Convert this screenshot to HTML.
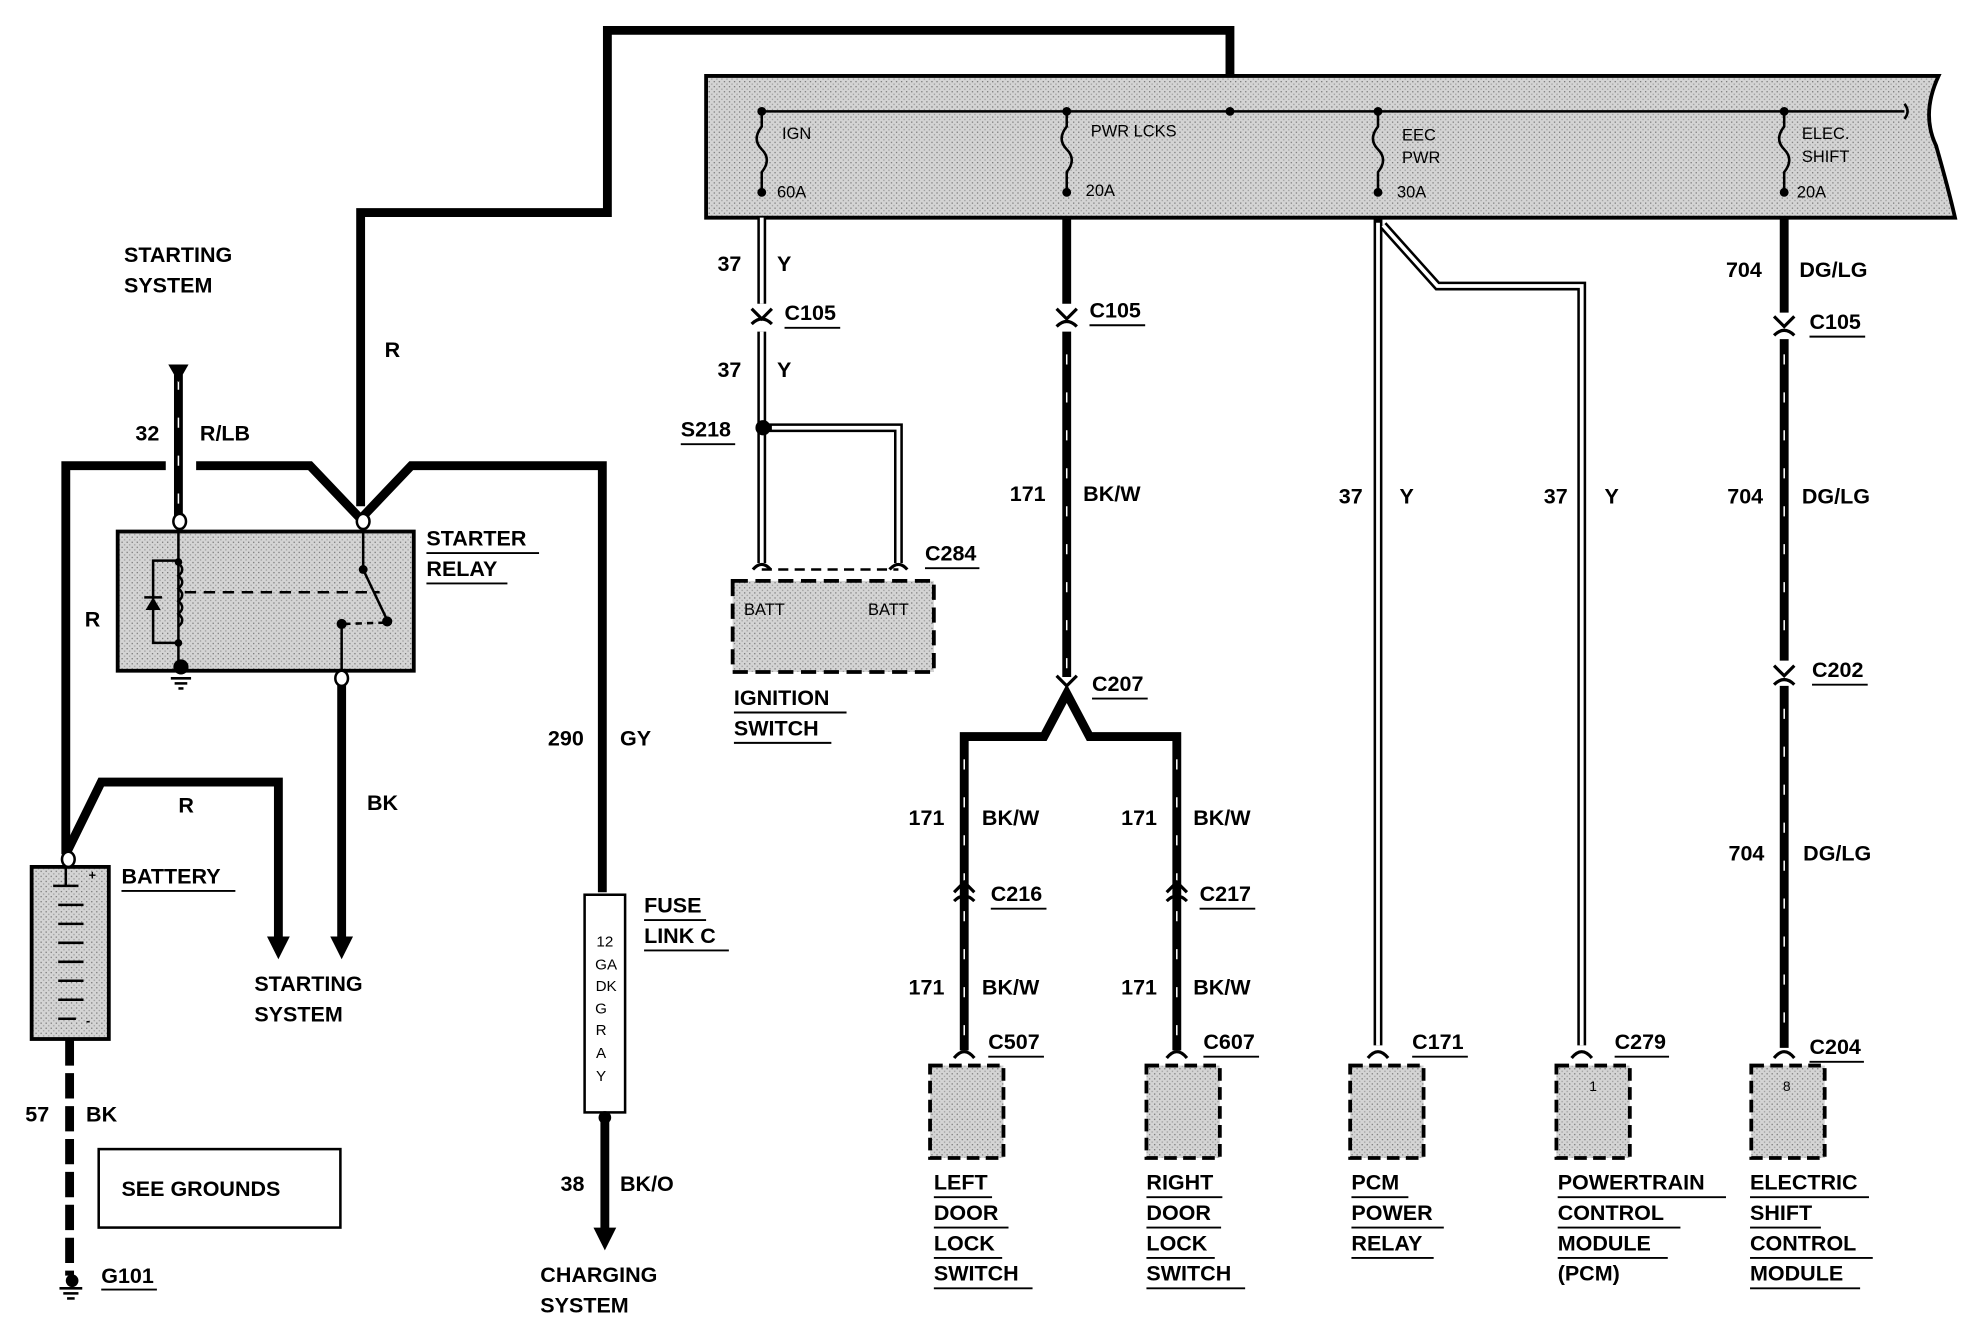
<!DOCTYPE html>
<html><head><meta charset="utf-8"><style>
html,body{margin:0;padding:0;background:#fff;}
svg{display:block;}
text{font-family:"Liberation Sans",sans-serif;font-weight:bold;fill:#000;}
</style></head><body>
<svg width="1974" height="1344" viewBox="0 0 1560 1062" preserveAspectRatio="none" xmlns="http://www.w3.org/2000/svg">
<defs>
<pattern id="dots" width="4" height="4" patternUnits="userSpaceOnUse">
<rect width="4" height="4" fill="#d4d4d4"/><rect width="1" height="1" fill="#777"/><rect x="2" y="2" width="1" height="1" fill="#999"/>
</pattern>
</defs>
<g fill="none" stroke="#000" stroke-linejoin="miter">
<!-- top power feed -->
<polyline points="285,400 285,168 480,168 480,24 972,24 972,88" stroke-width="7"/>
<!-- fuse box -->
<path d="M558,60 L1532,60 Q1518,90 1530,115 Q1540,150 1545,172 L558,172 Z" fill="url(#dots)" stroke-width="3"/>
<line x1="600" y1="88" x2="1505" y2="88" stroke-width="2"/>
<path d="M1505,82 Q1510,88 1505,94" stroke-width="2"/>
<!-- fuses -->
<g stroke-width="2">
<path d="M602,88 L602,100 Q594,110 602,118 Q610,126 602,136 L602,152"/>
<path d="M843,88 L843,100 Q835,110 843,118 Q851,126 843,136 L843,152"/>
<path d="M1089,88 L1089,100 Q1081,110 1089,118 Q1097,126 1089,136 L1089,152"/>
<path d="M1410,88 L1410,100 Q1402,110 1410,118 Q1418,126 1410,136 L1410,152"/>
</g>
</g>
<g fill="#000">
<circle cx="602" cy="88" r="3.5"/><circle cx="843" cy="88" r="3.5"/><circle cx="972" cy="88" r="3.5"/><circle cx="1089" cy="88" r="3.5"/><circle cx="1410" cy="88" r="3.5"/>
<circle cx="602" cy="152" r="3.5"/><circle cx="843" cy="152" r="3.5"/><circle cx="1089" cy="152" r="3.5"/><circle cx="1410" cy="152" r="3.5"/>
</g>
<g font-size="13" style="font-weight:normal">
<text x="618" y="110" style="font-weight:normal">IGN</text><text x="614" y="156" style="font-weight:normal">60A</text>
<text x="862" y="108" style="font-weight:normal">PWR LCKS</text><text x="858" y="155" style="font-weight:normal">20A</text>
<text x="1108" y="111" style="font-weight:normal">EEC</text><text x="1108" y="129" style="font-weight:normal">PWR</text><text x="1104" y="156" style="font-weight:normal">30A</text>
<text x="1424" y="110" style="font-weight:normal">ELEC.</text><text x="1424" y="128" style="font-weight:normal">SHIFT</text><text x="1420" y="156" style="font-weight:normal">20A</text>
</g>

<!-- double (thin) wires -->
<g fill="none" stroke-linejoin="miter">
<g stroke="#000" stroke-width="7">
<polyline points="602,172 602,240"/><polyline points="602,262 602,338"/>
<polyline points="602,338 602,445"/><polyline points="606,338 710,338 710,445"/>
<polyline points="1089,172 1089,826"/><polyline points="1093,178 1136,226 1250,226 1250,826"/>
</g>
<g stroke="#fff" stroke-width="3">
<polyline points="602,172 602,240"/><polyline points="602,262 602,338"/>
<polyline points="602,340 602,445"/><polyline points="610,338 710,338 710,445"/>
<polyline points="1089,176 1089,826"/><polyline points="1093,178 1136,226 1250,226 1250,826"/>
</g>
</g>
<circle cx="603" cy="338" r="6" fill="#000"/>

<!-- thick wires -->
<g fill="none" stroke="#000" stroke-width="7" stroke-linejoin="miter">
<line x1="843" y1="172" x2="843" y2="240"/>
<line x1="843" y1="262" x2="843" y2="535"/>
<polyline points="762,830 762,582 825,582 843,548 861,582 930,582 930,830"/>
<line x1="1410" y1="172" x2="1410" y2="247"/>
<line x1="1410" y1="268" x2="1410" y2="522"/>
<line x1="1410" y1="542" x2="1410" y2="828"/>
<!-- left side -->
<line x1="141" y1="296" x2="141" y2="408"/>
<polyline points="131,368 52,368 52,675"/>
<polyline points="155,368 245,368 285,410 325,368 476,368 476,705"/>
<polyline points="52,675 80,618 220,618 220,745"/>
<line x1="270" y1="540" x2="270" y2="745"/>
<line x1="478" y1="882" x2="478" y2="975"/>
<line x1="55" y1="822" x2="55" y2="1008" stroke-dasharray="20,6"/>
</g>
<!-- white dash highlights on thick wires -->
<g stroke="#fff" stroke-width="1.2" stroke-dasharray="8,22" fill="none">
<line x1="843" y1="280" x2="843" y2="530"/>
<line x1="1410" y1="280" x2="1410" y2="520"/>
<line x1="1410" y1="560" x2="1410" y2="820"/>
<line x1="762" y1="600" x2="762" y2="820"/>
<line x1="930" y1="600" x2="930" y2="820"/>
<line x1="141" y1="300" x2="141" y2="400"/>
</g>
<!-- arrowheads -->
<g fill="#000">
<polygon points="133,288 149,288 141,302"/>
<polygon points="211,740 229,740 220,758"/>
<polygon points="261,740 279,740 270,758"/>
<polygon points="469,970 487,970 478,988"/>
</g>
<!-- connector chevrons -->
<g fill="none" stroke="#000" stroke-width="2.5">
<path d="M594,244 L602,252 L610,244"/><path d="M594,256 Q602,248 610,256"/>
<path d="M835,244 L843,252 L851,244"/><path d="M835,258 Q843,250 851,258"/>
<path d="M1402,250 L1410,258 L1418,250"/><path d="M1402,265 Q1410,257 1418,265"/>
<path d="M1402,526 L1410,534 L1418,526"/><path d="M1402,541 Q1410,533 1418,541"/>
<path d="M835,534 L843,542 L851,534"/>
<path d="M754,705 L762,697 L770,705"/><path d="M754,712 Q762,704 770,712"/>
<path d="M922,705 L930,697 L938,705"/><path d="M922,712 Q930,704 938,712"/>
<path d="M754,836 Q762,826 770,836"/><path d="M922,836 Q930,826 938,836"/>
<path d="M1081,836 Q1089,826 1097,836"/><path d="M1242,836 Q1250,826 1258,836"/>
<path d="M1402,836 Q1410,826 1418,836"/>
<path d="M595,450 Q602,442 609,450"/><path d="M703,450 Q710,442 717,450"/>
</g>
<!-- ignition switch -->
<rect x="579" y="459" width="159" height="72" fill="url(#dots)" stroke="#000" stroke-width="3" stroke-dasharray="12,6"/>
<line x1="602" y1="450" x2="710" y2="450" stroke="#000" stroke-width="2" stroke-dasharray="8,5"/>
<text x="588" y="486" font-size="13" style="font-weight:normal">BATT</text>
<text x="686" y="486" font-size="13" style="font-weight:normal">BATT</text>
<!-- component boxes -->
<g fill="url(#dots)" stroke="#000" stroke-width="3" stroke-dasharray="10,5">
<rect x="735" y="842" width="58" height="73"/>
<rect x="906" y="842" width="58" height="73"/>
<rect x="1067" y="842" width="58" height="73"/>
<rect x="1230" y="842" width="58" height="73"/>
<rect x="1384" y="842" width="58" height="73"/>
</g>
<text x="1256" y="862" font-size="11" style="font-weight:normal">1</text>
<text x="1409" y="862" font-size="11" style="font-weight:normal">8</text>

<!-- starter relay -->
<rect x="93" y="420" width="234" height="110" fill="url(#dots)" stroke="#000" stroke-width="3"/>
<g fill="none" stroke="#000" stroke-width="2">
<line x1="141" y1="414" x2="141" y2="524"/>
<path d="M141,445 q6,5 0,10 q6,5 0,10 q6,5 0,10 q6,5 0,10 q6,5 0,10"/>
<polyline points="141,443 121,443 121,508 141,508"/>
<line x1="146" y1="468" x2="300" y2="468" stroke-dasharray="9,6"/>
<line x1="287" y1="414" x2="287" y2="450"/>
<line x1="287" y1="450" x2="306" y2="490"/>
<polyline points="270,493 270,533"/>
<line x1="272" y1="493" x2="304" y2="492" stroke-dasharray="5,4"/>
</g>
<polygon points="115,482 127,482 121,472" fill="#000"/><line x1="114" y1="472" x2="128" y2="472" stroke="#000" stroke-width="2"/>
<g fill="#000"><circle cx="141" cy="444" r="3"/><circle cx="141" cy="508" r="3"/><circle cx="287" cy="450" r="3.5"/><circle cx="306" cy="491" r="4"/><circle cx="270" cy="493" r="4"/><circle cx="143" cy="527" r="6"/></g>
<g stroke="#000" stroke-width="2"><line x1="135" y1="536" x2="151" y2="536"/><line x1="138" y1="540" x2="148" y2="540"/><line x1="141" y1="544" x2="145" y2="544"/></g>
<g fill="#fff" stroke="#000" stroke-width="2">
<ellipse cx="142" cy="412" rx="5" ry="6"/><ellipse cx="287" cy="412" rx="5" ry="6"/><ellipse cx="270" cy="536" rx="5" ry="6"/>
</g>
<!-- battery -->
<rect x="25" y="685" width="61" height="136" fill="url(#dots)" stroke="#000" stroke-width="3"/>
<g stroke="#000" stroke-width="2">
<line x1="52" y1="685" x2="52" y2="700"/><line x1="42" y1="700" x2="62" y2="700"/>
<line x1="46" y1="715" x2="66" y2="715"/><line x1="46" y1="730" x2="66" y2="730"/><line x1="46" y1="745" x2="66" y2="745"/><line x1="46" y1="760" x2="66" y2="760"/><line x1="46" y1="775" x2="66" y2="775"/><line x1="46" y1="790" x2="66" y2="790"/><line x1="46" y1="805" x2="60" y2="805"/>
</g>
<text x="70" y="695" font-size="10">+</text><text x="68" y="810" font-size="10">-</text>
<ellipse cx="54" cy="679" rx="5" ry="6" fill="#fff" stroke="#000" stroke-width="2"/>
<!-- ground G101 -->
<g stroke="#000" stroke-width="2"><line x1="47" y1="1018" x2="65" y2="1018"/><line x1="50" y1="1022" x2="62" y2="1022"/><line x1="53" y1="1026" x2="59" y2="1026"/></g>
<circle cx="57" cy="1012" r="5" fill="#000"/>
<rect x="78" y="908" width="191" height="62" fill="none" stroke="#000" stroke-width="2"/>
<!-- fuse link -->
<rect x="462" y="707" width="32" height="172" fill="#fff" stroke="#000" stroke-width="2"/>
<circle cx="478" cy="883" r="5" fill="#000"/>
<g font-size="12" style="font-weight:normal" text-anchor="middle">
<text x="478" y="748" style="font-weight:normal">12</text><text x="479" y="766" style="font-weight:normal">GA</text><text x="479" y="783" style="font-weight:normal">DK</text><text x="475" y="801" style="font-weight:normal">G</text><text x="475" y="818" style="font-weight:normal">R</text><text x="475" y="836" style="font-weight:normal">A</text><text x="475" y="854" style="font-weight:normal">Y</text>
</g>

<!-- labels -->
<g font-size="17">
<text x="98" y="207">STARTING</text><text x="98" y="231">SYSTEM</text>
<text x="304" y="282">R</text>
<text x="107" y="348">32</text><text x="158" y="348">R/LB</text>
<text x="67" y="495">R</text>
<text x="141" y="642">R</text>
<text x="290" y="640">BK</text>
<text x="96" y="698">BATTERY</text>
<text x="201" y="783">STARTING</text><text x="201" y="807">SYSTEM</text>
<text x="433" y="589">290</text><text x="490" y="589">GY</text>
<text x="20" y="886">57</text><text x="68" y="886">BK</text>
<text x="96" y="945">SEE GROUNDS</text>
<text x="80" y="1014">G101</text>
<text x="443" y="941">38</text><text x="490" y="941">BK/O</text>
<text x="427" y="1013">CHARGING</text><text x="427" y="1037">SYSTEM</text>
<text x="509" y="721">FUSE</text><text x="509" y="745">LINK C</text>
<text x="337" y="431">STARTER</text><text x="337" y="455">RELAY</text>
<text x="567" y="214">37</text><text x="614" y="214">Y</text>
<text x="620" y="253">C105</text>
<text x="567" y="298">37</text><text x="614" y="298">Y</text>
<text x="538" y="345">S218</text>
<text x="731" y="443">C284</text>
<text x="580" y="557">IGNITION</text><text x="580" y="581">SWITCH</text>
<text x="861" y="251">C105</text>
<text x="798" y="396">171</text><text x="856" y="396">BK/W</text>
<text x="863" y="546">C207</text>
<text x="718" y="652">171</text><text x="776" y="652">BK/W</text>
<text x="886" y="652">171</text><text x="943" y="652">BK/W</text>
<text x="783" y="712">C216</text><text x="948" y="712">C217</text>
<text x="718" y="786">171</text><text x="776" y="786">BK/W</text>
<text x="886" y="786">171</text><text x="943" y="786">BK/W</text>
<text x="781" y="829">C507</text><text x="951" y="829">C607</text>
<text x="1116" y="829">C171</text><text x="1276" y="829">C279</text><text x="1430" y="833">C204</text>
<text x="1058" y="398">37</text><text x="1106" y="398">Y</text>
<text x="1220" y="398">37</text><text x="1268" y="398">Y</text>
<text x="1364" y="219">704</text><text x="1422" y="219">DG/LG</text>
<text x="1430" y="260">C105</text>
<text x="1365" y="398">704</text><text x="1424" y="398">DG/LG</text>
<text x="1432" y="535">C202</text>
<text x="1366" y="680">704</text><text x="1425" y="680">DG/LG</text>
<text x="738" y="940">LEFT</text><text x="738" y="964">DOOR</text><text x="738" y="988">LOCK</text><text x="738" y="1012">SWITCH</text>
<text x="906" y="940">RIGHT</text><text x="906" y="964">DOOR</text><text x="906" y="988">LOCK</text><text x="906" y="1012">SWITCH</text>
<text x="1068" y="940">PCM</text><text x="1068" y="964">POWER</text><text x="1068" y="988">RELAY</text>
<text x="1231" y="940">POWERTRAIN</text><text x="1231" y="964">CONTROL</text><text x="1231" y="988">MODULE</text><text x="1231" y="1012">(PCM)</text>
<text x="1383" y="940">ELECTRIC</text><text x="1383" y="964">SHIFT</text><text x="1383" y="988">CONTROL</text><text x="1383" y="1012">MODULE</text>
</g>
<!-- underlines -->
<g stroke="#000" stroke-width="1.5">
<line x1="96" y1="704" x2="186" y2="704"/>
<line x1="80" y1="1019" x2="124" y2="1019"/>
<line x1="509" y1="727" x2="558" y2="727"/><line x1="509" y1="751" x2="576" y2="751"/>
<line x1="337" y1="437" x2="426" y2="437"/><line x1="337" y1="461" x2="401" y2="461"/>
<line x1="620" y1="259" x2="664" y2="259"/><line x1="538" y1="351" x2="581" y2="351"/>
<line x1="731" y1="449" x2="774" y2="449"/>
<line x1="580" y1="563" x2="669" y2="563"/><line x1="580" y1="587" x2="657" y2="587"/>
<line x1="861" y1="257" x2="905" y2="257"/><line x1="863" y1="552" x2="907" y2="552"/>
<line x1="783" y1="718" x2="827" y2="718"/><line x1="948" y1="718" x2="992" y2="718"/>
<line x1="781" y1="835" x2="825" y2="835"/><line x1="951" y1="835" x2="995" y2="835"/>
<line x1="1116" y1="835" x2="1160" y2="835"/><line x1="1276" y1="835" x2="1319" y2="835"/><line x1="1430" y1="839" x2="1473" y2="839"/>
<line x1="1430" y1="266" x2="1474" y2="266"/><line x1="1432" y1="541" x2="1476" y2="541"/>
<line x1="738" y1="946" x2="784" y2="946"/><line x1="738" y1="970" x2="797" y2="970"/><line x1="738" y1="994" x2="792" y2="994"/><line x1="738" y1="1018" x2="816" y2="1018"/>
<line x1="906" y1="946" x2="966" y2="946"/><line x1="906" y1="970" x2="965" y2="970"/><line x1="906" y1="994" x2="960" y2="994"/><line x1="906" y1="1018" x2="984" y2="1018"/>
<line x1="1068" y1="946" x2="1113" y2="946"/><line x1="1068" y1="970" x2="1141" y2="970"/><line x1="1068" y1="994" x2="1133" y2="994"/>
<line x1="1231" y1="946" x2="1364" y2="946"/><line x1="1231" y1="970" x2="1328" y2="970"/><line x1="1231" y1="994" x2="1318" y2="994"/>
<line x1="1383" y1="946" x2="1477" y2="946"/><line x1="1383" y1="970" x2="1439" y2="970"/><line x1="1383" y1="994" x2="1480" y2="994"/><line x1="1383" y1="1018" x2="1470" y2="1018"/>
</g>
</svg>
</body></html>
